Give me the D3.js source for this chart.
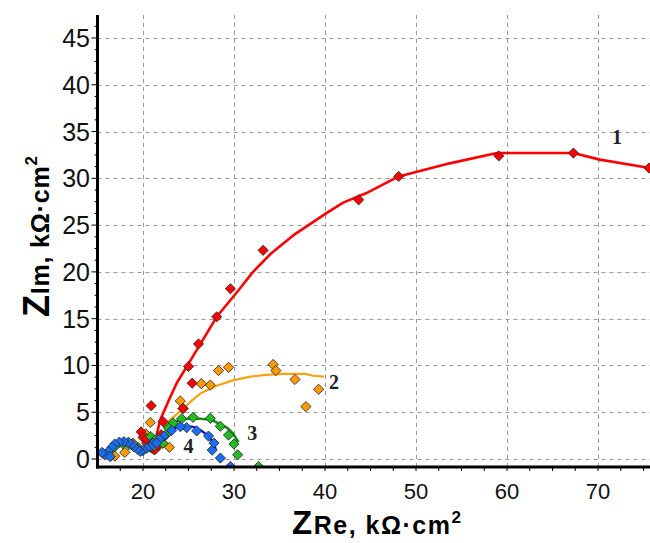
<!DOCTYPE html>
<html><head><meta charset="utf-8">
<script src="https://cdn.jsdelivr.net/npm/d3@7"></script>
<style>body{margin:0;background:#fff}svg{display:block}</style>
</head><body><svg id="c" width="650" height="543"></svg>
<script>
// ---- data ----
const xTicks = [20, 30, 40, 50, 60, 70];
const yTicks = [0, 5, 10, 15, 20, 25, 30, 35, 40, 45];

const s1x = [75.6, 67.3, 59.1, 48.1, 43.7, 33.2, 29.6, 28.1, 26.1, 25.0, 25.4, 24.4, 22.2, 20.9, 19.8, 20.0, 20.4, 20.9, 21.3, 21.7, 22.0, 20.4];
const s1y = [31.1, 32.7, 32.4, 30.2, 27.7, 22.3, 18.2, 15.2, 12.3, 9.9, 8.1, 5.4, 4.0, 5.7, 2.9, 2.3, 1.7, 1.2, 1.0, 1.5, 2.6, 2.2];
const f1x = [21.5, 21.9, 22.8, 23.7, 25.0, 26.5, 28.1, 30.3, 32.0, 34.0, 36.5, 40.2, 42.0, 44.5, 48.1, 53.7, 58.9, 62.2, 67.3, 70.2, 75.7, 78];
const f1y = [2.6, 4.2, 6.2, 8.1, 10.2, 12.6, 15.2, 17.8, 19.9, 21.9, 23.9, 26.3, 27.4, 28.4, 30.2, 31.6, 32.7, 32.7, 32.7, 32.0, 31.1, 30.7];

const s2x = [39.3, 36.7, 37.9, 34.3, 34.6, 29.4, 28.3, 27.4, 26.4, 24.1, 24.4, 22.9, 20.8, 20.3, 21.5, 21.7, 21.2, 18.9, 18.0, 16.9, 15.6];
const s2y = [7.45, 8.5, 5.6, 10.1, 9.45, 9.8, 9.45, 7.9, 8.05, 6.2, 5.4, 1.25, 3.9, 2.7, 2.1, 1.4, 1.0, 1.7, 0.7, 0.3, 0.6];
const f2x = [22.2, 23.0, 24.1, 25.2, 26.3, 28.0, 29.9, 31.8, 33.5, 35.4, 37.8, 38.7, 39.9];
const f2y = [3.4, 4.2, 5.1, 6.1, 7.0, 7.8, 8.4, 8.8, 9.0, 9.1, 9.1, 8.9, 8.8];

const s3x = [32.7, 30.4, 30.0, 29.4, 28.5, 27.4, 25.5, 24.25, 23.3, 22.8, 22.5, 22.2, 21.2, 20.85, 21.3, 16.9, 17.8, 19.5, 18.5];
const s3y = [-0.8, 0.45, 1.6, 2.56, 3.5, 4.35, 4.45, 4.3, 3.85, 3.3, 2.56, 1.68, 1.4, 2.4, 2.0, 1.3, 1.6, 1.2, 1.5];
const f3x = [22.3, 23.3, 24.8, 26.3, 27.5, 28.5, 29.3, 29.9, 30.3, 30.5];
const f3y = [3.3, 3.95, 4.3, 4.3, 4.2, 3.7, 3.3, 2.7, 2.1, 1.8];

const s4x = [29.6, 28.5, 27.6, 27.8, 27.2, 25.9, 24.8, 24.1, 23.15, 22.3, 21.8, 21.1, 20.8, 20.4, 20.0, 19.7, 19.4, 19.0, 18.8, 18.4, 17.9, 17.4, 16.9, 16.6, 16.2, 15.8, 15.5, 16.4, 21.5];
const s4y = [-0.8, 0.1, 0.95, 1.7, 2.45, 3.0, 3.35, 3.45, 3.05, 2.45, 2.1, 1.7, 1.3, 1.15, 0.9, 0.8, 1.05, 1.3, 1.6, 1.8, 1.85, 1.8, 1.6, 1.25, 0.8, 0.45, 0.7, 0.25, 1.7];
const f4x = [22.5, 23.5, 24.5, 25.5, 26.3, 27.0, 27.5, 27.9, 28.0];
const f4y = [2.8, 3.3, 3.55, 3.45, 3.1, 2.6, 2.0, 1.4, 1.0];

const curveLabels = ["1", "2", "3", "4"];
const labelX = [72.1, 41.0, 32.0, 25.0];
const labelY = [33.7, 7.5, 2.0, 0.6];

// ---- chart ----
const svg = d3.select("#c");
const pL = 97.5, pR = 650, pT = 15, pB = 467;
const x = d3.scaleLinear().domain([20, 70]).range([143, 598]);
const y = d3.scaleLinear().domain([0, 45]).range([459, 38]);

svg.append("defs").append("clipPath").attr("id", "pa")
  .append("rect").attr("x", pL).attr("y", pT).attr("width", pR - pL).attr("height", pB - pT);

// grid
const grid = svg.append("g").attr("stroke", "#9a9a9a").attr("stroke-width", 1).attr("stroke-dasharray", "4,4");
grid.selectAll("line.v").data(xTicks).join("line").attr("class", "v")
  .attr("x1", d => Math.round(x(d)) + 0.5).attr("x2", d => Math.round(x(d)) + 0.5)
  .attr("y1", pT).attr("y2", pB);
grid.selectAll("line.h").data(yTicks).join("line").attr("class", "h")
  .attr("y1", d => Math.round(y(d)) + 0.5).attr("y2", d => Math.round(y(d)) + 0.5)
  .attr("x1", pL).attr("x2", pR);

const plot = svg.append("g").attr("clip-path", "url(#pa)");
const line = d3.line().x(d => x(d[0])).y(d => y(d[1]));
const series = [
  {px: s2x, py: s2y, fx: f2x, fy: f2y, fill: "#ff9a00", lc: "#ffa010", lw: 2.2},
  {px: s1x, py: s1y, fx: f1x, fy: f1y, fill: "#ff0000", lc: "#ff0000", lw: 2.6},
  {px: s3x, py: s3y, fx: f3x, fy: f3y, fill: "#22bb22", lc: "#168c16", lw: 2.6},
  {px: s4x, py: s4y, fx: f4x, fy: f4y, fill: "#1a6cf0", lc: "#0000ff", lw: 2.2}
];
series.forEach(s => {
  plot.append("path").datum(s.fx.map((v, i) => [v, s.fy[i]]))
    .attr("d", line).attr("fill", "none").attr("stroke", s.lc).attr("stroke-width", s.lw)
    .attr("stroke-linejoin", "round");
});
const sym = d3.symbol().type(d3.symbolSquare).size(52);
series.forEach(s => {
  plot.append("g").selectAll("path").data(s.px.map((v, i) => [v, s.py[i]])).join("path")
    .attr("d", sym)
    .attr("transform", d => `translate(${x(d[0])},${y(d[1])}) rotate(45)`)
    .attr("fill", s.fill).attr("stroke", "#2a2a2a").attr("stroke-width", 0.8);
});

// axes
const minorX = d3.range(15, 80, 2.5);
const minorY = d3.range(0, 47.5, 1.25);
const gx = svg.append("g").attr("transform", `translate(0,${pB})`);
gx.selectAll("line").data(minorX.filter(v => x(v) > pL && x(v) < pR)).join("line")
  .attr("x1", d => x(d)).attr("x2", d => x(d)).attr("y1", 0).attr("y2", 4)
  .attr("stroke", "#000").attr("stroke-width", 1);
const gy = svg.append("g").attr("transform", `translate(${pL},0)`);
gy.selectAll("line").data(minorY).join("line")
  .attr("y1", d => y(d)).attr("y2", d => y(d)).attr("x1", 0).attr("x2", d => (d % 5 === 0 ? -6 : -3))
  .attr("stroke", "#000").attr("stroke-width", 1);
svg.append("line").attr("x1", pL).attr("x2", pL).attr("y1", pT).attr("y2", pB + 1.5)
  .attr("stroke", "#000").attr("stroke-width", 3);
svg.append("line").attr("x1", pL - 1.5).attr("x2", pR).attr("y1", pB).attr("y2", pB)
  .attr("stroke", "#000").attr("stroke-width", 3);

// tick labels
svg.append("g").selectAll("text").data(xTicks).join("text")
  .attr("x", d => x(d)).attr("y", 499).attr("text-anchor", "middle")
  .attr("font-family", "Liberation Sans, Arial, sans-serif").attr("font-size", 22).attr("fill", "#111")
  .text(d => d);
svg.append("g").selectAll("text").data(yTicks).join("text")
  .attr("x", 90).attr("y", d => y(d)).attr("dy", "0.36em").attr("text-anchor", "end")
  .attr("font-family", "Liberation Sans, Arial, sans-serif").attr("font-size", 25).attr("fill", "#111")
  .text(d => d);

// curve labels
svg.append("g").selectAll("text").data(curveLabels).join("text")
  .attr("x", (d, i) => x(labelX[i])).attr("y", (d, i) => y(labelY[i])).attr("text-anchor", "middle")
  .attr("font-family", "Liberation Serif, Times New Roman, serif").attr("font-size", 20).attr("font-weight", "bold").attr("fill", "#222")
  .text(d => d);

// axis titles
const xt = svg.append("text").attr("x", 292).attr("y", 534).attr("letter-spacing", 1.5)
  .attr("font-family", "Liberation Sans, Arial, sans-serif").attr("font-weight", "bold").attr("fill", "#000");
xt.append("tspan").attr("font-size", 33).text("Z");
xt.append("tspan").attr("font-size", 25).text("Re, kΩ·cm");
xt.append("tspan").attr("font-size", 17).attr("dy", -11).text("2");

const yt = svg.append("text").attr("transform", "translate(49,317) rotate(-90)").attr("letter-spacing", 0.8)
  .attr("font-family", "Liberation Sans, Arial, sans-serif").attr("font-weight", "bold").attr("fill", "#000");
yt.append("tspan").attr("font-size", 36).text("Z");
yt.append("tspan").attr("font-size", 25).text("Im, kΩ·cm");
yt.append("tspan").attr("font-size", 17).attr("dy", -12).text("2");
</script></body></html>
